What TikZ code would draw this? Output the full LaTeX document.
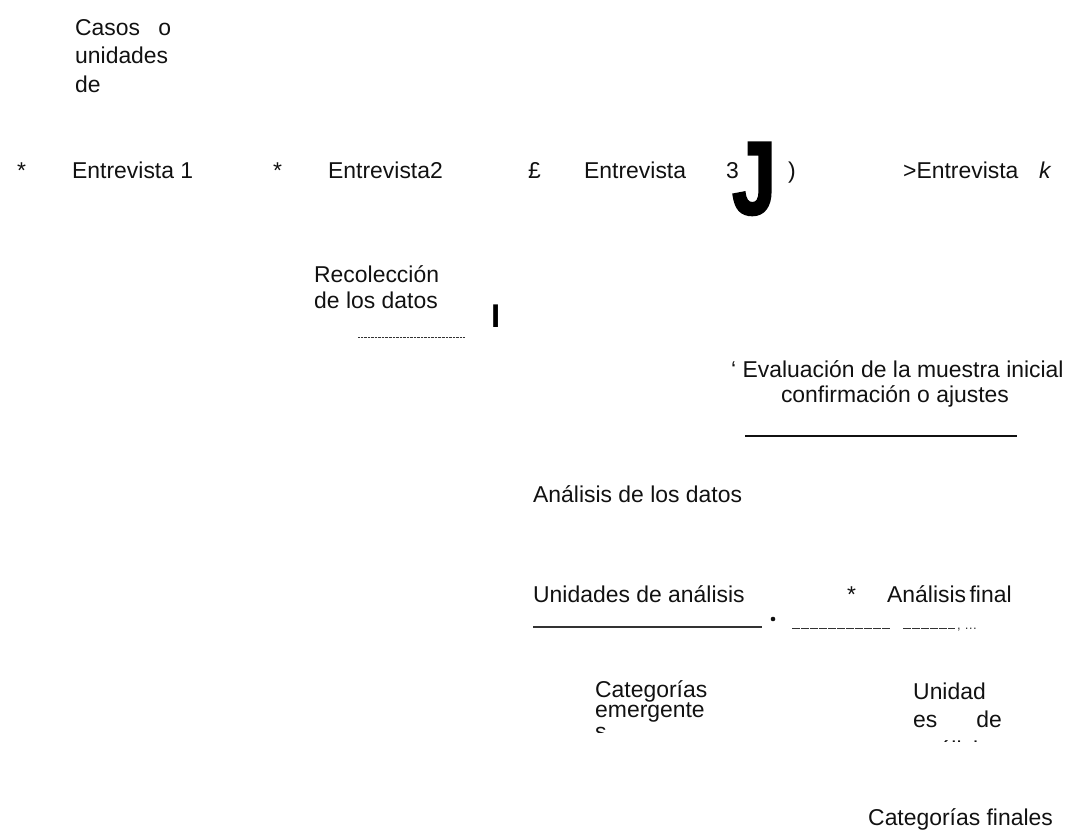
\documentclass[tikz,border=0pt]{standalone}
\usepackage{fontspec}
\setmainfont{Liberation Sans}
\usetikzlibrary{positioning}
\definecolor{inkBlack}{HTML}{111111}
\definecolor{ruleGray}{HTML}{333333}

\tikzset{
  lbl/.style={anchor=base west, inner sep=0pt, text=inkBlack,
              font=\fontsize{23}{26}\selectfont},
  bigglyph/.style={anchor=base west, inner sep=0pt, text=black,
              font=\fontsize{104}{104}\selectfont\bfseries\addfontfeature{FakeBold=2.5}},
}

\begin{document}
\begin{tikzpicture}[x=1bp, y=-1bp]
\useasboundingbox (0,0) rectangle (1072,830);

% --- cases / units header ---
\foreach \t [count=\i] in {Casos\hspace{0.8em}o,unidades,de}
  \node[lbl] (casos\i) at (75,{35+28.5*(\i-1)}) {\t};

% --- interview row ---
\node[lbl] (ast1)  at (17,178)  {*};
\node[lbl] (ent1)  at (72,178)  {Entrevista 1};
\node[lbl] (ast2)  at (273,178) {*};
\node[lbl] (ent2)  at (328,178) {Entrevista2};
\node[lbl] (pound) at (528,178) {£};
\node[lbl] (ent3)  at (584,178) {Entrevista};
\node[lbl] (three) at (726,178) {3};
\node[bigglyph] (jota) at (732,214) {\scalebox{0.76}[1]{J}};
\node[lbl] (paren) at (788,178) {)};
\node[lbl] (entk)  at (903,178) {>Entrevista\hspace{0.9em}\textit{k}};

% --- data collection ---
\node[lbl] (recol1) at (314,282) {Recolección};
\node[lbl] (recol2) at (314,308) {de los datos};
\node[anchor=base west, inner sep=0pt, font=\fontsize{33}{33}\selectfont\bfseries]
  (bar) at (491,327) {I};
\draw[ruleGray, line width=0.6pt, dash pattern=on 0.7pt off 0.7pt]
  (358,337) -- (465,337);

% --- sample evaluation ---
\node[lbl] (eval1) at (731,377) {‘ Evaluación de la muestra inicial};
\node[lbl, anchor=base] (eval2) at (895,402) {confirmación o ajustes};
\draw[inkBlack, line width=1.3pt] (745,436) -- (1017,436);

% --- analysis ---
\node[lbl] (anal) at (533,502) {Análisis de los datos};
\node[lbl] (units) at (533,602) {Unidades de análisis};
\node[lbl] (ast3)  at (847,602) {*};
\node[lbl] (final) at (887,602) {Análisis\hspace{0.15em}final};

\draw[ruleGray, line width=1.2pt] (533,627) -- (762,627);
\fill[inkBlack] (773,619) circle (2.3);
\draw[ruleGray, line width=0.9pt, dash pattern=on 7.5bp off 1.5bp]
  (792,628) -- (890,628) (903,628) -- (955,628);
\node[anchor=base west, inner sep=0pt, text=ruleGray,
      font=\fontsize{13}{13}\selectfont] (dots) at (957,629) {, \dots};

% --- emergent categories (cut off below) ---
\begin{scope}
  \clip (580,660) rectangle (730,732);
  \foreach \t/\yb [count=\i] in {Categorías/697,emergente/717,s/739}
    \node[lbl] (cat\i) at (595,\yb) {\t};
\end{scope}

% --- units of analysis (cut off below) ---
\begin{scope}
  \clip (900,670) rectangle (1050,741);
  \node[lbl] (uni1) at (913,699) {Unidad};
  \node[lbl] (uni2) at (913,727) {es\hspace{1.7em}de};
  \node[lbl] (uni3) at (913,757) {análisis};
\end{scope}

% --- final categories ---
\node[lbl] (catfin) at (868,825) {Categorías finales};

\end{tikzpicture}
\end{document}
